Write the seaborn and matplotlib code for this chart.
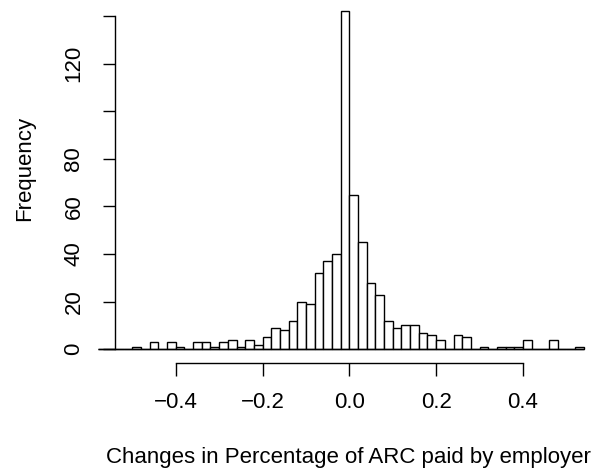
import numpy as np
import pandas as pd
import matplotlib
matplotlib.use("Agg")
import matplotlib.pyplot as plt
import seaborn as sns

# Histogram bins (width 0.02) and the count in each bin
bin_edges = [round(-0.58 + 0.02 * i, 2) for i in range(57)]
counts = [0, 0, 0, 0, 1, 0, 3, 0, 3, 1,
          0, 3, 3, 1, 3, 4, 1, 4, 2, 5,
          9, 8, 12, 20, 19, 32, 37, 40, 142, 65,
          45, 28, 23, 12, 9, 10, 10, 7, 6, 4,
          0, 6, 5, 0, 1, 0, 1, 1, 1, 4,
          0, 0, 4, 0, 0, 1]
x_ticks = [-0.4, -0.2, 0.0, 0.2, 0.4]
x_tick_labels = ["\u22120.4", "\u22120.2", "0.0", "0.2", "0.4"]
y_ticks = [0, 20, 40, 60, 80, 100, 120, 140]
y_tick_labels = ["0", "20", "40", "60", "80", "", "120", ""]

edges = np.array(bin_edges)
df = pd.DataFrame({
    "change": (edges[:-1] + edges[1:]) / 2,
    "n": counts,
})

sns.set_style("ticks")
plt.rcParams["font.family"] = ["Liberation Sans", "DejaVu Sans"]
plt.rcParams["font.size"] = 16
plt.rcParams["text.color"] = "black"
plt.rcParams["xtick.labelcolor"] = "black"
plt.rcParams["ytick.labelcolor"] = "black"

W, H = 595, 470
fig = plt.figure(figsize=(W / 100, H / 100), dpi=100)
ax = fig.add_axes([115 / W, (H - 349.3) / H, (583.7 - 115) / W, (349.3 - 4.05) / H])

sns.histplot(data=df, x="change", weights="n", bins=bin_edges, ax=ax,
             color="white", edgecolor="black", linewidth=1.0, alpha=1.0,
             stat="count")
for p in ax.patches:
    p.set_clip_on(False)
ax.hlines(0, bin_edges[0], bin_edges[-1], color="black", lw=1.0, clip_on=False, zorder=3)

ax.set_xlim(-0.54, 0.54)
ax.set_ylim(0, 145)

for s in ("top", "right"):
    ax.spines[s].set_visible(False)
ax.spines["left"].set_bounds(0, 140)
ax.spines["bottom"].set_bounds(-0.4, 0.4)
ax.spines["bottom"].set_position(("outward", 13.4 * 0.72))
for s in ("left", "bottom"):
    ax.spines[s].set_linewidth(1.0)
    ax.spines[s].set_color("black")

ax.set_xticks(x_ticks)
ax.set_xticklabels(x_tick_labels)
ax.set_yticks(y_ticks)
ax.set_yticklabels(y_tick_labels, rotation=90, va="center")
ax.tick_params(axis="both", length=9, width=1.0, color="black",
               labelsize=16, labelcolor="black")
ax.tick_params(axis="x", pad=12)
ax.tick_params(axis="y", pad=13)

ax.set_xlabel("")
ax.set_ylabel("")
fig.text(348 / W, 1 - 457 / H, "Changes in Percentage of ARC paid by employer",
         ha="center", va="center", fontsize=16, color="black")
fig.text(25 / W, 1 - 168 / H, "Frequency", rotation=90,
         ha="center", va="center", fontsize=16, color="black")

fig.savefig("out.png", dpi=100)
